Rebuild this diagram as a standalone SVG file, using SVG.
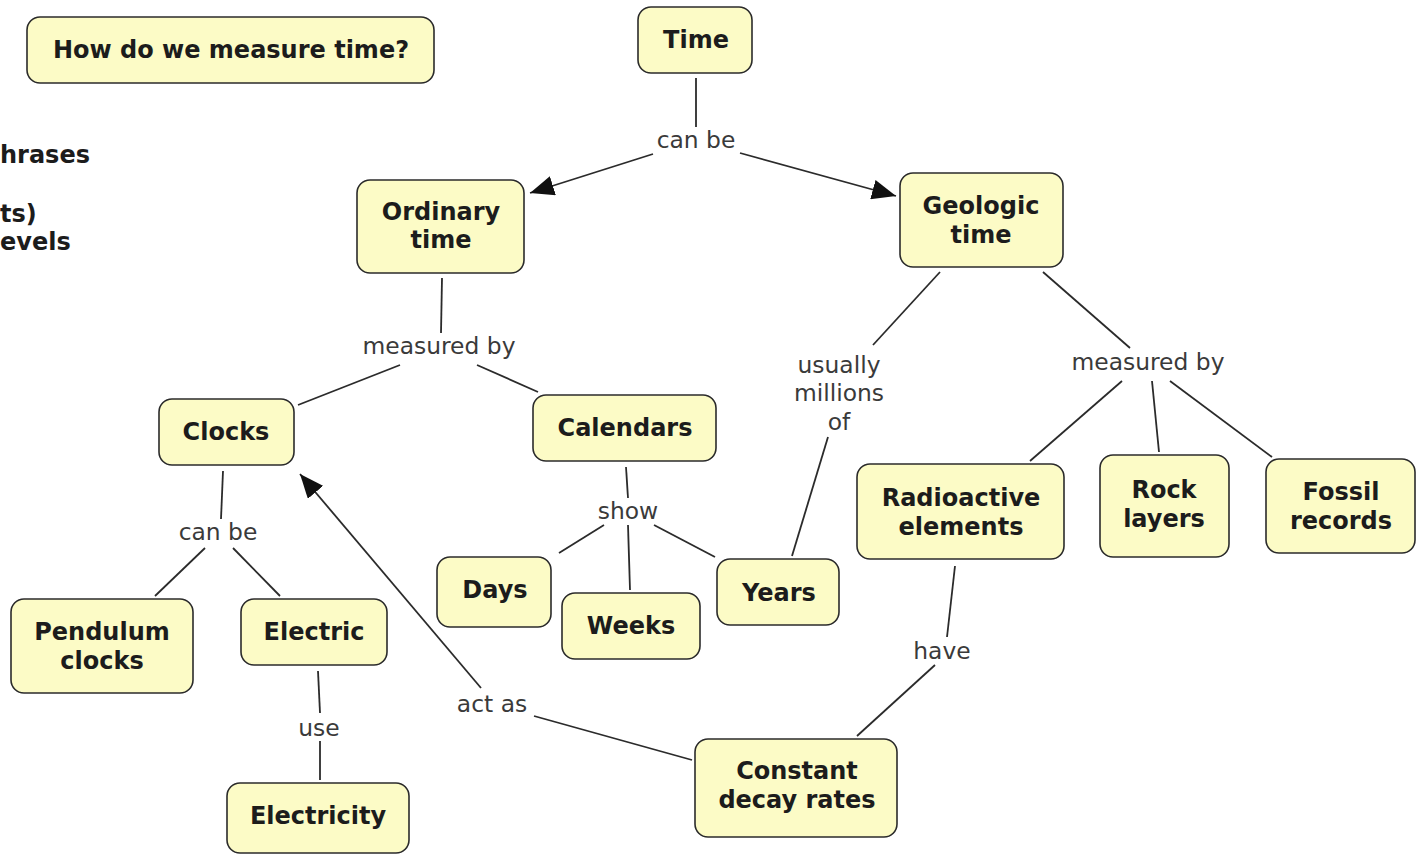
<svg xmlns="http://www.w3.org/2000/svg" width="1416" height="856" viewBox="0 0 1416 856">
<style>
.n rect{fill:#fcfbc6;stroke:#2b2b2b;stroke-width:1.6}
.n text{font-family:"DejaVu Sans",Verdana,sans-serif;font-weight:bold;font-size:24px;fill:#1c1c1c;text-anchor:middle}
.lab{font-family:"DejaVu Sans",Verdana,sans-serif;font-size:23.4px;fill:#3a3a3a;text-anchor:middle}
.side{font-family:"DejaVu Sans",Verdana,sans-serif;font-weight:bold;font-size:24px;fill:#1c1c1c}
#connectors line{stroke:#2b2b2b;stroke-width:1.8}
</style>
<defs>
<marker id="arr" markerUnits="userSpaceOnUse" markerWidth="26" markerHeight="20" refX="24" refY="10" orient="auto">
<path d="M0,0 L24,10 L0,20 Z" fill="#111"/>
</marker>
</defs>
<rect width="1416" height="856" fill="#fff"/>
<g id="side-text">
<text class="side" x="0" y="163">hrases</text>
<text class="side" x="0" y="222">ts)</text>
<text class="side" x="0" y="250">evels</text>
</g>
<g id="connectors">
<line x1="696" y1="78" x2="696" y2="127"/>
<line x1="653" y1="154" x2="530" y2="193" marker-end="url(#arr)"/>
<line x1="740" y1="153" x2="896" y2="196" marker-end="url(#arr)"/>
<line x1="442" y1="278" x2="441" y2="333"/>
<line x1="400" y1="365" x2="298" y2="405"/>
<line x1="477" y1="365" x2="538" y2="392"/>
<line x1="940" y1="272" x2="873" y2="345"/>
<line x1="828" y1="437" x2="792" y2="556"/>
<line x1="1043" y1="272" x2="1130" y2="348"/>
<line x1="1122" y1="381" x2="1030" y2="461"/>
<line x1="1152" y1="381" x2="1159" y2="452"/>
<line x1="1170" y1="381" x2="1272" y2="457"/>
<line x1="223" y1="471" x2="221" y2="519"/>
<line x1="205" y1="548" x2="155" y2="596"/>
<line x1="233" y1="548" x2="280" y2="596"/>
<line x1="318" y1="671" x2="320" y2="713"/>
<line x1="320" y1="741" x2="320" y2="780"/>
<line x1="626" y1="467" x2="628" y2="498"/>
<line x1="604" y1="525" x2="559" y2="553"/>
<line x1="628" y1="525" x2="630" y2="590"/>
<line x1="654" y1="525" x2="715" y2="557"/>
<line x1="955" y1="566" x2="947" y2="637"/>
<line x1="935" y1="665" x2="857" y2="736"/>
<line x1="692" y1="760" x2="534" y2="716"/>
<line x1="481" y1="688" x2="300" y2="474" marker-end="url(#arr)"/>
<text class="lab" x="696" y="148">can be</text>
<text class="lab" x="439" y="354">measured by</text>
<text class="lab" x="839" y="373">usually</text>
<text class="lab" x="839" y="401">millions</text>
<text class="lab" x="839" y="430">of</text>
<text class="lab" x="1148" y="370">measured by</text>
<text class="lab" x="218" y="540">can be</text>
<text class="lab" x="628" y="519">show</text>
<text class="lab" x="319" y="736">use</text>
<text class="lab" x="942" y="659">have</text>
<text class="lab" x="492" y="712">act as</text>
</g>
<g id="n-question" class="n"><rect x="27" y="17" width="407" height="66" rx="13"/><text x="231" y="58">How do we measure time?</text></g>
<g id="n-time" class="n"><rect x="638" y="7" width="114" height="66" rx="13"/><text x="696" y="48">Time</text></g>
<g id="n-ordinary" class="n"><rect x="357" y="180" width="167" height="93" rx="13"/><text x="441" y="220">Ordinary</text><text x="441" y="248">time</text></g>
<g id="n-geologic" class="n"><rect x="900" y="173" width="163" height="94" rx="13"/><text x="981" y="214">Geologic</text><text x="981" y="243">time</text></g>
<g id="n-clocks" class="n"><rect x="159" y="399" width="135" height="66" rx="13"/><text x="226" y="440">Clocks</text></g>
<g id="n-calendars" class="n"><rect x="533" y="395" width="183" height="66" rx="13"/><text x="625" y="436">Calendars</text></g>
<g id="n-pendulum" class="n"><rect x="11" y="599" width="182" height="94" rx="13"/><text x="102" y="640">Pendulum</text><text x="102" y="669">clocks</text></g>
<g id="n-electric" class="n"><rect x="241" y="599" width="146" height="66" rx="13"/><text x="314" y="640">Electric</text></g>
<g id="n-electricity" class="n"><rect x="227" y="783" width="182" height="70" rx="13"/><text x="318" y="824">Electricity</text></g>
<g id="n-days" class="n"><rect x="437" y="557" width="114" height="70" rx="13"/><text x="495" y="598">Days</text></g>
<g id="n-weeks" class="n"><rect x="562" y="593" width="138" height="66" rx="13"/><text x="631" y="634">Weeks</text></g>
<g id="n-years" class="n"><rect x="717" y="559" width="122" height="66" rx="13"/><text x="779" y="601">Years</text></g>
<g id="n-radioactive" class="n"><rect x="857" y="464" width="207" height="95" rx="13"/><text x="961" y="506">Radioactive</text><text x="961" y="535">elements</text></g>
<g id="n-rock" class="n"><rect x="1100" y="455" width="129" height="102" rx="13"/><text x="1164" y="498">Rock</text><text x="1164" y="527">layers</text></g>
<g id="n-fossil" class="n"><rect x="1266" y="459" width="149" height="94" rx="13"/><text x="1341" y="500">Fossil</text><text x="1341" y="529">records</text></g>
<g id="n-constant" class="n"><rect x="695" y="739" width="202" height="98" rx="13"/><text x="797" y="779">Constant</text><text x="797" y="808">decay rates</text></g>
</svg>
